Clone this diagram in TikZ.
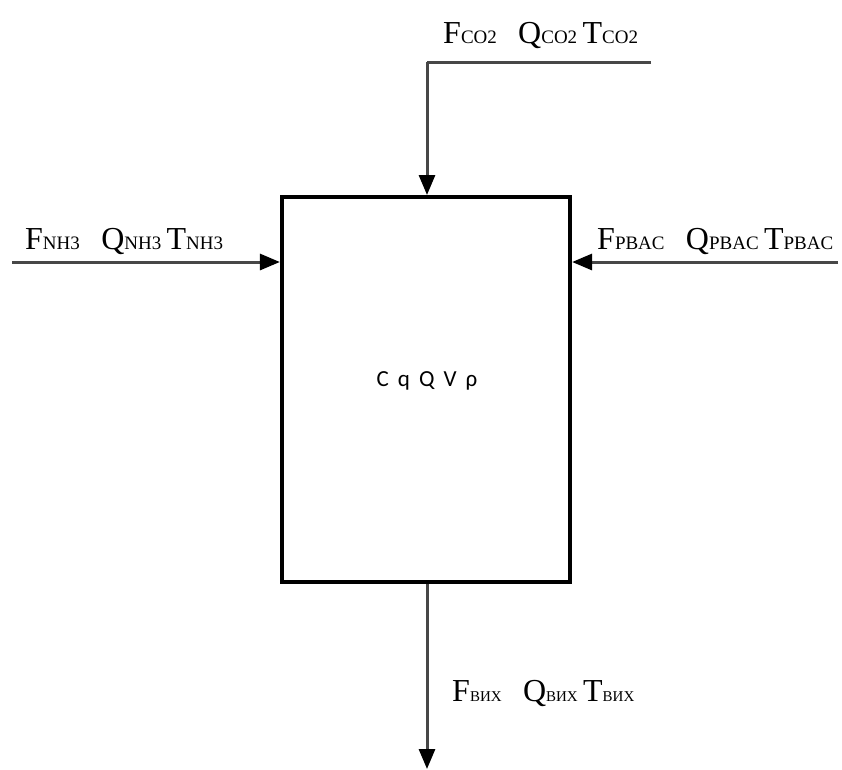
\documentclass[tikz,border=0pt]{standalone}
\usepackage{fontspec}
\setmainfont{Liberation Serif}
\newfontfamily\calib{Carlito}
\usetikzlibrary{arrows.meta}
\begin{document}
\begin{tikzpicture}[x=1pt,y=-1pt,
  flow/.style={draw=black!72,line width=3pt,-{Triangle[length=20pt,width=16pt,color=black]}},
  plainflow/.style={draw=black!72,line width=3pt},
  lbl/.style={inner sep=0pt,anchor=base west,font=\fontsize{32}{36}\selectfont}]
\newcommand{\sbs}[1]{{\fontsize{19}{22}\selectfont #1}}
\newcommand{\sbv}[1]{{\fontsize{15}{18}\selectfont #1}}
\useasboundingbox (0,0) rectangle (842,769);
\node[draw,line width=4.2pt,minimum width=288pt,minimum height=385pt,inner sep=0pt] (box) at (426,389.5) {};
\node[inner sep=0pt,font=\calib\fontsize{23}{26}\selectfont] (state) at (427,381) {C\,\ q\,\ Q\,\ V\,\ ρ};
% top
\coordinate (topend) at (651,62);
\coordinate (topcorner) at (427,62);
\draw[plainflow] (topend) -- (topcorner);
\draw[flow] (topcorner) -- (427,195);
\node[lbl] (toplbl) at (443,43) {F\sbs{CO2}\ \ \,Q\sbs{CO2}\,T\sbs{CO2}};
% left
\coordinate (leftstart) at (12,262);
\draw[flow] (leftstart) -- (box.west |- leftstart);
\node[lbl] (leftlbl) at (25,249) {F\sbs{NH3}\ \ \,Q\sbs{NH3}\,T\sbs{NH3}};
% right
\coordinate (rightstart) at (838,262);
\draw[flow] (rightstart) -- (box.east |- rightstart);
\node[lbl] (rightlbl) at (597,249) {F\sbs{PBAC}\ \ \,Q\sbs{PBAC}\,T\sbs{PBAC}};
% bottom
\coordinate (botend) at (427,769);
\draw[flow] (box.south -| botend) -- (botend);
\node[lbl] (botlbl) at (452,701) {F\sbv{ВИХ}\ \ \,Q\sbv{ВИХ}\,T\sbv{ВИХ}};
\end{tikzpicture}
\end{document}
